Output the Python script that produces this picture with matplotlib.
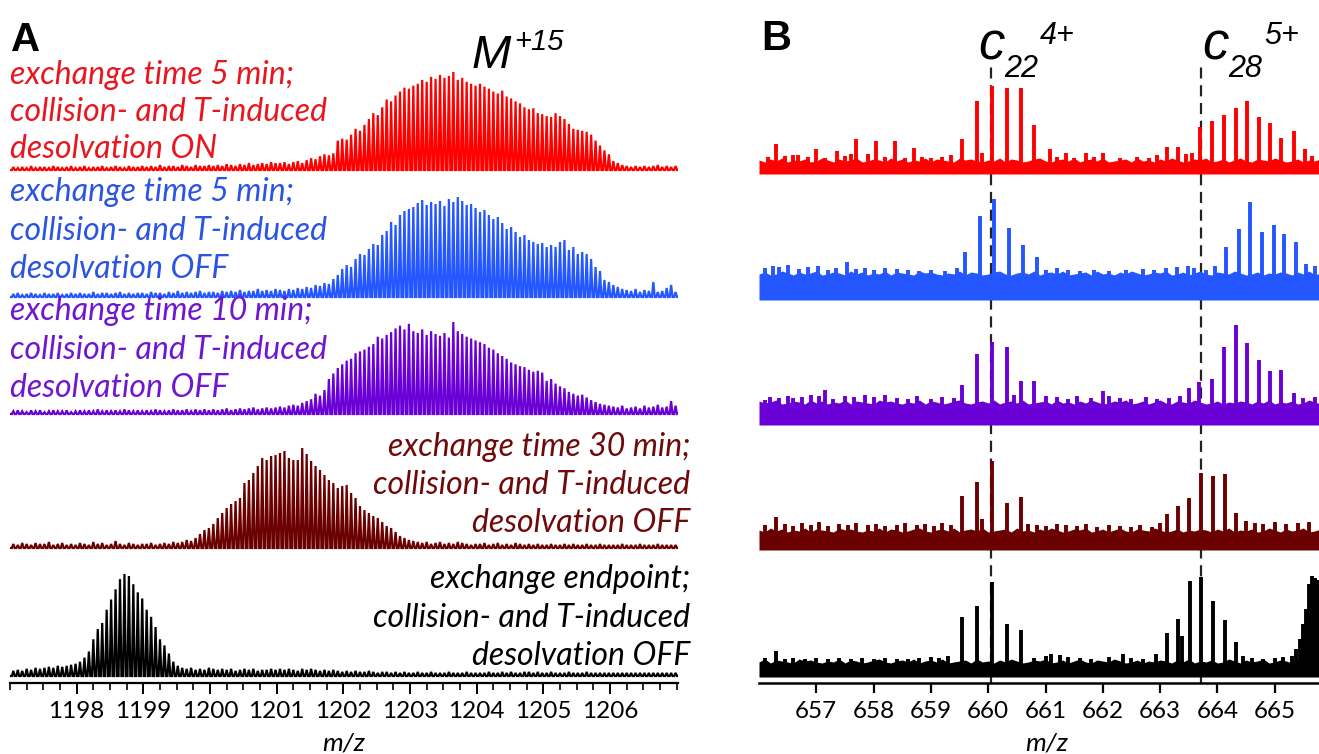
import matplotlib
matplotlib.use("Agg")
import matplotlib.pyplot as plt
from matplotlib.ticker import MultipleLocator

plt.rcParams['font.family'] = ['Lato', 'DejaVu Sans']

# ---------------- panel A data: M+15 isotopic envelopes ----------------
# peak m/z = A_START + k/15, intensities in % of the trace maximum
A_START = 1197.05
A_STEP = 1 / 15

red_a = [3, 2, 3, 2, 4, 2, 3, 3, 2, 4, 3, 2, 3, 4, 2,
         3, 4, 2, 3, 3, 4, 2, 3, 4, 3, 2, 4, 3, 3, 4,
         3, 4, 3, 5, 3, 4, 4, 3, 5, 4, 3, 5, 4, 4, 5,
         4, 5, 4, 6, 5, 4, 6, 5, 7, 5, 6, 7, 6, 8, 7,
         7, 8, 6, 8, 9, 7, 10, 12, 11, 14, 16, 15, 17, 30, 32,
         31, 36, 42, 40, 46, 52, 58, 56, 64, 72, 70, 76, 80, 84, 83,
         86, 88, 92, 90, 95, 93, 97, 94, 96, 100, 92, 94, 90, 88, 86,
         88, 85, 83, 80, 78, 81, 75, 73, 70, 68, 64, 62, 63, 58, 57,
         55, 54, 58, 55, 52, 47, 42, 41, 40, 39, 36, 30, 25, 20, 16,
         9, 7, 5, 4, 3, 4, 3, 4, 3, 4, 5, 3, 4, 3, 4]

blue_a = [3, 4, 2, 3, 4, 3, 2, 4, 3, 3, 4, 2, 3, 4, 3,
          4, 3, 3, 5, 3, 4, 4, 3, 4, 5, 3, 4, 3, 4, 4,
          3, 5, 4, 4, 3, 5, 4, 6, 4, 5, 4, 5, 6, 4, 5,
          5, 4, 6, 5, 6, 5, 7, 5, 6, 6, 8, 6, 7, 6, 8,
          7, 6, 8, 7, 9, 8, 10, 9, 12, 11, 14, 13, 18, 22, 28,
          32, 30, 38, 43, 42, 48, 53, 52, 62, 66, 75, 72, 82, 86, 88,
          90, 94, 97, 92, 95, 93, 96, 91, 98, 95, 100, 96, 92, 93, 89,
          85, 87, 82, 78, 80, 74, 68, 70, 65, 60, 62, 57, 55, 53, 54,
          50, 52, 50, 55, 57, 47, 50, 43, 45, 43, 38, 30, 26, 17, 15,
          12, 10, 8, 7, 6, 8, 5, 7, 6, 15, 5, 6, 9, 12, 5]

purple_a = [3, 4, 3, 2, 4, 3, 4, 2, 3, 4, 3, 3, 4, 2, 3,
            4, 3, 4, 3, 5, 3, 4, 3, 4, 3, 5, 4, 3, 4, 3,
            4, 3, 5, 4, 3, 4, 5, 4, 4, 5, 3, 5, 4, 5, 4,
            5, 4, 5, 6, 4, 5, 6, 5, 6, 7, 5, 6, 7, 6, 7,
            8, 7, 9, 10, 9, 12, 14, 16, 22, 20, 26, 38, 44, 50, 54,
            58, 60, 66, 68, 70, 73, 76, 84, 82, 86, 89, 93, 96, 92, 98,
            90, 88, 92, 86, 90, 87, 85, 88, 83, 100, 90, 87, 84, 82, 80,
            78, 76, 72, 70, 66, 63, 60, 56, 54, 52, 51, 48, 46, 47, 45,
            36, 38, 33, 30, 28, 24, 22, 20, 21, 18, 15, 13, 11, 10, 9,
            8, 7, 9, 6, 7, 8, 6, 9, 7, 8, 10, 7, 8, 14, 9]

brown_a = [4, 3, 5, 4, 3, 5, 4, 4, 6, 3, 4, 5, 3, 4, 3,
           5, 4, 3, 6, 4, 5, 3, 4, 7, 4, 3, 5, 4, 3, 4,
           4, 5, 3, 4, 5, 4, 6, 5, 6, 8, 7, 10, 14, 18, 20,
           24, 30, 35, 40, 44, 47, 50, 65, 68, 75, 82, 90, 88, 92, 93,
           95, 97, 90, 88, 88, 100, 94, 87, 82, 78, 73, 68, 65, 60, 62,
           63, 55, 50, 42, 38, 35, 32, 30, 26, 22, 20, 16, 12, 10, 8,
           7, 6, 5, 6, 4, 5, 6, 4, 5, 4, 6, 5, 4, 3, 4,
           4, 5, 3, 4, 5, 3, 4, 3, 5, 4, 3, 4, 3, 4, 3,
           3, 4, 3, 3, 4, 3, 4, 3, 3, 4, 3, 3, 4, 3, 3,
           3, 3, 4, 3, 3, 3, 4, 3, 3, 3, 4, 3, 3, 3, 3]

black_a = [5, 6, 5, 7, 6, 8, 7, 8, 9, 8, 10, 9, 10, 11, 12,
           14, 18, 24, 36, 46, 52, 65, 75, 85, 95, 100, 98, 90, 82, 76,
           65, 58, 48, 36, 30, 22, 14, 10, 8, 7, 8, 6, 7, 6, 8,
           7, 6, 7, 6, 7, 5, 6, 7, 6, 7, 5, 6, 6, 7, 6,
           7, 6, 7, 6, 5, 7, 6, 7, 6, 5, 6, 5, 6, 5, 4,
           5, 4, 5, 4, 4, 5, 4, 3, 4, 4, 3, 4, 3, 4, 3,
           3, 4, 3, 3, 4, 3, 3, 3, 4, 3, 3, 3, 4, 3, 3,
           3, 3, 4, 3, 3, 4, 3, 4, 3, 3, 4, 4, 3, 4, 3,
           3, 4, 3, 3, 3, 4, 3, 3, 3, 4, 3, 3, 3, 3, 3,
           3, 3, 3, 3, 3, 3, 3, 3, 3, 3, 3, 3, 3, 3, 3]

label_lines = ["exchange time 5 min;", "collision- and T-induced", "desolvation ON",
               "exchange time 5 min;", "collision- and T-induced", "desolvation OFF",
               "exchange time 10 min;", "collision- and T-induced", "desolvation OFF",
               "exchange time 30 min;", "collision- and T-induced", "desolvation OFF",
               "exchange endpoint;", "collision- and T-induced", "desolvation OFF"]

# ---------------- panel B data: c22(4+) and c28(5+) fragments ----------------
red_b_mz = [656.15, 656.3, 656.45, 656.6, 656.68, 656.85, 657.0, 657.15, 657.36, 657.5, 657.6, 657.7,
            657.9, 658.04, 658.2, 658.37, 658.55, 658.7, 658.85, 659.0, 659.2, 659.35, 659.55, 659.8,
            659.9, 660.07, 660.33, 660.58, 660.8, 661.08, 661.2, 661.36, 661.5, 661.7, 661.85, 662.0,
            662.3, 662.6, 662.8, 662.95, 663.12, 663.32, 663.45, 663.55, 663.7, 663.91, 664.12, 664.33,
            664.52, 664.72, 664.92, 665.11, 665.34, 665.53, 665.65]
red_b_int = [6, 19, 7, 8, 8, 6, 14, 5, 12, 7, 9, 24,
             9, 22, 6, 22, 5, 15, 6, 5, 6, 8, 24, 62,
             10, 77, 75, 75, 38, 14, 6, 10, 5, 10, 6, 10,
             5, 6, 5, 8, 16, 16, 9, 10, 36, 42, 48, 55,
             62, 46, 40, 25, 32, 14, 7]

blue_b_mz = [656.1, 656.25, 656.35, 656.5, 656.7, 656.85, 657.03, 657.2, 657.35, 657.54, 657.7, 657.85,
             658.0, 658.2, 658.4, 658.6, 658.8, 659.0, 659.25, 659.45, 659.6, 659.86, 660.1, 660.36,
             660.61, 660.85, 661.0, 661.2, 661.4, 661.6, 661.85, 662.1, 662.4, 662.7, 662.9, 663.1,
             663.3, 663.48, 663.6, 663.8, 663.95, 664.15, 664.38, 664.57, 664.77, 664.98, 665.17, 665.37,
             665.55, 665.7]
blue_b_int = [8, 10, 9, 11, 7, 9, 10, 6, 8, 14, 7, 8,
              6, 8, 7, 6, 5, 6, 5, 8, 24, 60, 77, 48,
              31, 19, 6, 8, 6, 5, 6, 5, 6, 7, 6, 8,
              9, 10, 8, 6, 10, 29, 47, 74, 44, 51, 42, 34,
              12, 10]

purple_b_mz = [656.1, 656.2, 656.35, 656.5, 656.6, 656.75, 656.9, 657.05, 657.15, 657.3, 657.5, 657.65,
               657.85, 658.0, 658.2, 658.4, 658.6, 658.75, 659.0, 659.2, 659.4, 659.55, 659.8, 660.07,
               660.33, 660.45, 660.58, 660.8, 661.0, 661.2, 661.4, 661.55, 661.8, 662.0, 662.1, 662.3,
               662.5, 662.75, 662.95, 663.15, 663.35, 663.5, 663.68, 663.91, 664.12, 664.33, 664.52, 664.72,
               664.92, 665.11, 665.34, 665.5, 665.7]
purple_b_int = [5, 8, 7, 9, 7, 8, 10, 9, 15, 6, 9, 8,
                10, 8, 10, 7, 6, 9, 6, 8, 7, 20, 51, 63,
                58, 10, 24, 24, 9, 8, 6, 9, 7, 14, 9, 7,
                6, 8, 6, 7, 9, 17, 23, 26, 58, 80, 62, 45,
                34, 35, 12, 7, 8]

brown_b_mz = [656.1, 656.3, 656.45, 656.6, 656.75, 656.9, 657.05, 657.2, 657.4, 657.55, 657.7, 657.9,
              658.05, 658.2, 658.4, 658.55, 658.75, 658.9, 659.05, 659.2, 659.35, 659.55, 659.8, 659.9,
              660.07, 660.33, 660.58, 660.7, 660.85, 661.0, 661.2, 661.35, 661.55, 661.7, 661.9, 662.1,
              662.3, 662.5, 662.65, 662.85, 663.0, 663.12, 663.32, 663.5, 663.71, 663.92, 664.13, 664.33,
              664.5, 664.65, 664.8, 665.0, 665.2, 665.4, 665.6]
brown_b_int = [8, 16, 9, 7, 10, 8, 11, 7, 9, 8, 10, 8,
               9, 7, 8, 10, 8, 9, 7, 10, 8, 37, 51, 14,
               72, 30, 36, 9, 8, 7, 9, 8, 7, 9, 6, 8,
               7, 6, 8, 6, 10, 19, 27, 35, 60, 57, 59, 20,
               12, 10, 9, 11, 9, 10, 11]

black_b_mz = [656.1, 656.3, 656.45, 656.6, 656.8, 657.0, 657.2, 657.4, 657.6, 657.8, 658.0, 658.2,
              658.4, 658.6, 658.8, 659.0, 659.15, 659.3, 659.55, 659.8, 660.07, 660.33, 660.58, 660.8,
              661.0, 661.1, 661.25, 661.4, 661.6, 661.8, 662.1, 662.35, 662.5, 662.7, 662.92, 663.12,
              663.32, 663.39, 663.52, 663.71, 663.92, 664.13, 664.33, 664.45, 664.6, 664.8, 665.0, 665.15,
              665.3, 665.38, 665.45, 665.5, 665.55, 665.6, 665.65, 665.7, 665.75]
black_b_int = [6, 13, 5, 6, 5, 6, 5, 6, 5, 6, 5, 6,
               5, 5, 6, 7, 6, 8, 47, 58, 82, 40, 34, 6,
               8, 10, 9, 7, 6, 5, 7, 10, 6, 5, 10, 31,
               45, 28, 83, 87, 63, 44, 22, 8, 6, 5, 6, 7,
               8, 15, 25, 40, 55, 80, 88, 86, 84]

# baseline noise ripple of the panel B traces, one value per 0.1 m/z from 656.0
ripple_b = [3, 1, 4, 2, 5, 1, 3, 2, 4, 1, 2, 5, 3, 1, 4, 2, 3, 5, 1, 2,
            4, 3, 1, 5, 2, 4, 1, 3, 2, 5, 1, 4, 3, 2, 1, 5, 3, 4, 2, 1,
            3, 2, 5, 1, 4, 3, 1, 2, 4, 5, 2, 1, 3, 4, 2, 5, 1, 3, 4, 2,
            5, 1, 2, 3, 4, 1, 5, 2, 3, 1, 4, 2, 5, 3, 1, 2, 4, 3, 5, 1,
            2, 4, 1, 3, 5, 2, 1, 4, 3, 2, 5, 3, 1, 2, 4, 1, 3, 2, 4]

fragment_mz = [660.05, 663.71]

# ---------------- layout / style ----------------
W, H = 1319, 754
fig = plt.figure(figsize=(W / 100, H / 100), dpi=100)


def box(x0, y0, x1, y1):
    # pixel box (top-left origin) -> figure fraction rect
    return [x0 / W, 1 - y1 / H, (x1 - x0) / W, (y1 - y0) / H]


def ftext(x, y, s, **kw):
    fig.text(x / W, 1 - y / H, s, **kw)


AXIS_Y = 683
colors_trace = ['#ff0000', '#2457ff', '#6a00d6', '#6b0000', '#000000']
colors_text = ['#e8161e', '#2b55e0', '#7016d0', '#6e0a0a', '#000000']

# panel A
axA = fig.add_axes(box(10, 0, 678, AXIS_Y))
axA.set_xlim(1197.0, 1207.02)
axA.set_ylim(0, AXIS_Y)
base_a = [513, 386, 269, 135, 7]      # px above axis line
scale_a = [0.98, 1.0, 0.92, 1.0, 1.02]  # px per % intensity
for ints, b, s, c in zip([red_a, blue_a, purple_a, brown_a, black_a], base_a, scale_a, colors_trace):
    xs, ys = [1197.0], [b]
    for k, v in enumerate(ints):
        m = A_START + k * A_STEP
        xs += [m - 0.021, m, m + 0.021]
        ys += [b, b + v * s, b]
    xs.append(1207.02)
    ys.append(b)
    axA.plot(xs, ys, color=c, lw=1.6, solid_joinstyle='miter')

for sp in ['left', 'right', 'top']:
    axA.spines[sp].set_visible(False)
axA.spines['bottom'].set_linewidth(1.6)
axA.set_yticks([])
axA.set_xticks(range(1198, 1207))
axA.xaxis.set_minor_locator(MultipleLocator(0.25))
axA.tick_params(axis='x', which='major', direction='out', length=8, width=1.4, labelsize=17.5, pad=5)
axA.tick_params(axis='x', which='minor', direction='out', length=5, width=1.2)
axA.patch.set_alpha(0)

# panel A labels
text_base_y = [84, 121, 158, 201, 240, 278, 320, 359, 397, 456, 494, 532, 588, 627, 665]
for i, (line, y) in enumerate(zip(label_lines, text_base_y)):
    grp = i // 3
    if grp < 3:
        ftext(10, y, line, color=colors_text[grp], fontsize=23, style='italic', va='baseline', ha='left')
    else:
        ftext(690, y, line, color=colors_text[grp], fontsize=23, style='italic', va='baseline', ha='right')

ftext(11, 51, 'A', fontsize=29, fontweight='bold', family='Liberation Sans', va='baseline')
ftext(472, 68, 'M', fontsize=34, style='italic', family='Liberation Sans', va='baseline')
ftext(514, 50, '+15', fontsize=21, style='italic', family='Liberation Sans', va='baseline')
ftext(344, 751, 'm/z', fontsize=19, style='italic', ha='center', va='baseline')

# panel B
axB = fig.add_axes(box(759, 0, 1319, AXIS_Y))
axB.set_xlim(656.0, 656.0 + 560 / 57.3)
axB.set_ylim(0, AXIS_Y)
band_b = [(509, 520), (383, 407), (258, 278), (133, 150), (6, 19)]  # band bottom/top, px above axis
peaks_b = [(red_b_mz, red_b_int), (blue_b_mz, blue_b_int), (purple_b_mz, purple_b_int),
           (brown_b_mz, brown_b_int), (black_b_mz, black_b_int)]
ripple_mz = [656.0 + 0.1 * i for i in range(len(ripple_b))]
for t, ((lo, hi), (mz, ints), c) in enumerate(zip(band_b, peaks_b, colors_trace)):
    rip = ripple_b[t * 7:] + ripple_b[:t * 7]
    axB.fill_between(ripple_mz, lo, [hi + r for r in rip], color=c, lw=0, zorder=3)
    axB.vlines(mz, hi - 4, [hi + v for v in ints], color=c, lw=2.8, zorder=3)

for m in fragment_mz:
    axB.plot([m, m], [0, AXIS_Y - 67], color='#222222', lw=1.6, ls=(0, (5, 3)), zorder=1)

for sp in ['left', 'right', 'top']:
    axB.spines[sp].set_visible(False)
axB.spines['bottom'].set_linewidth(1.8)
axB.set_yticks([])
axB.set_xticks(range(657, 666))
axB.tick_params(axis='x', direction='out', length=7, width=1.6, labelsize=17.5, pad=6)
axB.patch.set_alpha(0)

ftext(761, 50, 'B', fontsize=30, fontweight='bold', family='Liberation Sans', va='baseline')
ftext(978, 60, 'c', fontsize=38, style='italic', family='Liberation Sans', va='baseline')
ftext(1004, 77, '22', fontsize=22, style='italic', family='Liberation Sans', va='baseline')
ftext(1040, 44, '4+', fontsize=22, style='italic', family='Liberation Sans', va='baseline')
ftext(1202, 60, 'c', fontsize=38, style='italic', family='Liberation Sans', va='baseline')
ftext(1228, 77, '28', fontsize=22, style='italic', family='Liberation Sans', va='baseline')
ftext(1264, 44, '5+', fontsize=22, style='italic', family='Liberation Sans', va='baseline')
ftext(1047, 751, 'm/z', fontsize=19, style='italic', ha='center', va='baseline')

fig.savefig('out.png', dpi=100, facecolor='white')
